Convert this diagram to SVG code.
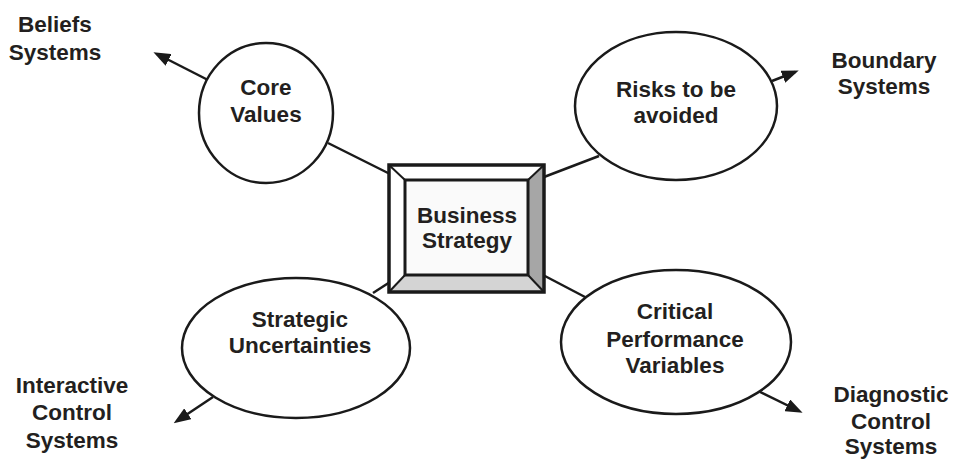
<svg xmlns="http://www.w3.org/2000/svg" width="958" height="459" viewBox="0 0 958 459">
  <defs>
    <marker id="arrow" markerUnits="userSpaceOnUse" markerWidth="17" markerHeight="13" refX="13" refY="6.5" orient="auto">
      <path d="M0,0 L17,6.5 L0,13 z" fill="#1a1a1a"/>
    </marker>
    <style>
      .t { font-family: "Liberation Sans", Arial, sans-serif; font-weight: bold; font-size: 22.5px; fill: #231f20; text-anchor: middle; }
      .node { fill: #ffffff; stroke: #1a1a1a; stroke-width: 2.5; }
      .conn { stroke: #1a1a1a; stroke-width: 2.5; fill: none; }
      .arr { stroke: #1a1a1a; stroke-width: 2.5; fill: none; marker-end: url(#arrow); }
      .bev { stroke: #1a1a1a; stroke-width: 2; }
    </style>
  </defs>
  <rect width="958" height="459" fill="#ffffff"/>

  <g id="connectors">
    <line class="conn" x1="328" y1="143" x2="390" y2="174"/>
    <line class="conn" x1="599" y1="156" x2="544" y2="177"/>
    <line class="conn" x1="373" y1="293" x2="390" y2="282"/>
    <line class="conn" x1="543" y1="275" x2="585" y2="297"/>
    <line class="arr" x1="208" y1="80" x2="157" y2="54"/>
    <line class="arr" x1="772" y1="81" x2="795" y2="72"/>
    <line class="arr" x1="213" y1="397" x2="177" y2="421"/>
    <line class="arr" x1="760" y1="392" x2="799" y2="411"/>
  </g>

  <g id="business-strategy">
    <rect x="389" y="165" width="155" height="127" fill="#ffffff" stroke="none"/>
    <polygon points="528,180 544,165 544,292 528,275" fill="#a6a6a6"/>
    <polygon points="405,275 528,275 544,292 389,292" fill="#d4d4d4"/>
    <line class="bev" x1="389" y1="165" x2="405" y2="180"/>
    <line class="bev" x1="544" y1="165" x2="528" y2="180"/>
    <line class="bev" x1="389" y1="292" x2="405" y2="275"/>
    <line class="bev" x1="544" y1="292" x2="528" y2="275"/>
    <rect x="389" y="165" width="155" height="127" fill="none" stroke="#1a1a1a" stroke-width="3.5"/>
    <rect x="405" y="180" width="123" height="95" fill="#fafafa" stroke="#1a1a1a" stroke-width="3"/>
    <text class="t" x="467" y="223">Business</text>
    <text class="t" x="467" y="248">Strategy</text>
  </g>

  <g id="core-values">
    <ellipse class="node" cx="266" cy="113" rx="67" ry="70"/>
    <text class="t" x="266" y="95">Core</text>
    <text class="t" x="266" y="122">Values</text>
  </g>

  <g id="risks">
    <ellipse class="node" cx="676" cy="106" rx="101" ry="74"/>
    <text class="t" x="676" y="97">Risks to be</text>
    <text class="t" x="676" y="123">avoided</text>
  </g>

  <g id="strategic-uncertainties">
    <ellipse class="node" cx="296" cy="348" rx="114" ry="70"/>
    <text class="t" x="300" y="327">Strategic</text>
    <text class="t" x="300" y="353">Uncertainties</text>
  </g>

  <g id="critical-performance">
    <ellipse class="node" cx="676" cy="342" rx="115" ry="72"/>
    <text class="t" x="675" y="319">Critical</text>
    <text class="t" x="675" y="347">Performance</text>
    <text class="t" x="675" y="373">Variables</text>
  </g>

  <g id="beliefs-systems">
    <text class="t" x="55" y="32">Beliefs</text>
    <text class="t" x="55" y="60">Systems</text>
  </g>

  <g id="boundary-systems">
    <text class="t" x="884" y="68">Boundary</text>
    <text class="t" x="884" y="94">Systems</text>
  </g>

  <g id="interactive-control-systems">
    <text class="t" x="72" y="393">Interactive</text>
    <text class="t" x="72" y="420">Control</text>
    <text class="t" x="72" y="448">Systems</text>
  </g>

  <g id="diagnostic-control-systems">
    <text class="t" x="891" y="402">Diagnostic</text>
    <text class="t" x="891" y="429">Control</text>
    <text class="t" x="891" y="454">Systems</text>
  </g>
</svg>
